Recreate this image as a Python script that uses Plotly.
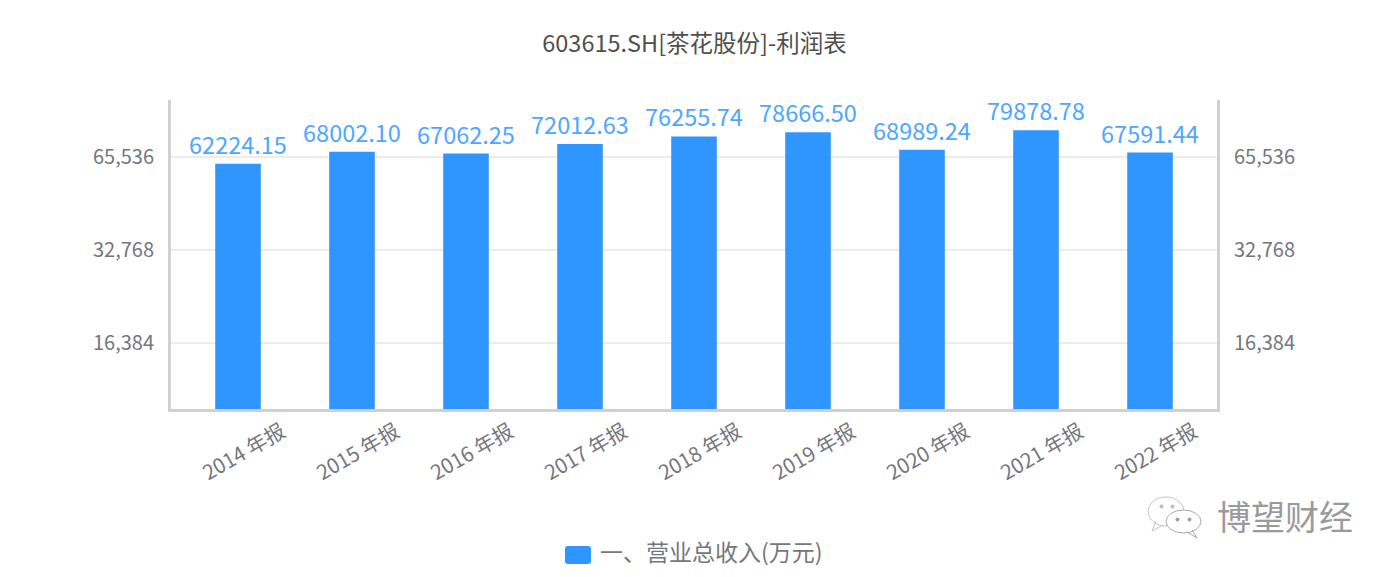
import plotly.graph_objects as go

W, H = 1398, 577
FONT = "Noto Sans CJK SC, Noto Sans, sans-serif"

title = "603615.SH[茶花股份]-利润表"
series_name = "一、营业总收入(万元)"
categories = ["2014 年报", "2015 年报", "2016 年报", "2017 年报", "2018 年报",
              "2019 年报", "2020 年报", "2021 年报", "2022 年报"]
revenue = [62224.15, 68002.10, 67062.25, 72012.63, 76255.74,
           78666.50, 68989.24, 79878.78, 67591.44]
tick_values = [16384, 32768, 65536]
tick_labels = ["16,384", "32,768", "65,536"]
watermark = "博望财经"

BLUE = "#3096ff"
LABEL = "#4fa6ff"
GREY = "#74767e"
AXIS = "#d0d0d0"
GRID = "#ececec"

# plot-area rectangle in pixels
L, R, T, B = 171, 1217, 100, 409


def px(x):
    return (x - L) / (R - L)


def py(y):
    return (B - y) / (B - T)


def bubble(x0, y0, x1, y1, color, fill="rgba(0,0,0,0)"):
    return dict(type="circle", xref="paper", yref="paper", layer="above",
                x0=px(x0), x1=px(x1), y0=py(y1), y1=py(y0),
                line=dict(color=color, width=1), fillcolor=fill)


def poly(points, color):
    d = "M" + " L".join(f"{px(a):.5f},{py(b):.5f}" for a, b in points)
    return dict(type="path", path=d, xref="paper", yref="paper", layer="above",
                line=dict(color=color, width=1), fillcolor="rgba(0,0,0,0)")


def rounded_rect(x0, y0, x1, y1, r, fill):
    q = lambda a, b: f"{px(a):.5f},{py(b):.5f}"
    d = (f"M{q(x0 + r, y0)} L{q(x1 - r, y0)} Q{q(x1, y0)} {q(x1, y0 + r)} "
         f"L{q(x1, y1 - r)} Q{q(x1, y1)} {q(x1 - r, y1)} L{q(x0 + r, y1)} "
         f"Q{q(x0, y1)} {q(x0, y1 - r)} L{q(x0, y0 + r)} Q{q(x0, y0)} {q(x0 + r, y0)} Z")
    return dict(type="path", path=d, xref="paper", yref="paper", layer="above",
                fillcolor=fill, line=dict(width=0))


fig = go.Figure()
fig.add_trace(go.Bar(
    x=categories, y=revenue, name=series_name,
    marker=dict(color=BLUE, line=dict(width=0)),
    text=[f"{v:.2f}" for v in revenue], textposition="outside", cliponaxis=False,
    constraintext="none",
    textfont=dict(size=23.5, color=LABEL, family=FONT),
    textangle=0,
))
# carries the right-hand value axis
fig.add_trace(go.Scatter(
    x=categories, y=revenue, yaxis="y2", mode="markers",
    marker=dict(opacity=0), showlegend=False, hoverinfo="skip",
))

common_y = dict(
    type="log", range=[4, 5], tickmode="array",
    tickvals=tick_values, ticktext=tick_labels,
    tickfont=dict(size=20, color=GREY, family=FONT),
    showline=True, linecolor=AXIS, linewidth=3, ticks="", zeroline=False,
    ticklabelstandoff=10,
)

shapes = [
    rounded_rect(565, 546, 591, 564, 3, BLUE),
    # chat-bubble watermark icon
    bubble(1148, 497, 1184, 526, "#c4c4c4"),
    poly([(1156, 521), (1152, 531), (1163, 525)], "#c4c4c4"),
    bubble(1166, 510, 1201, 533, "#a8a8a8", "white"),
    poly([(1192, 530), (1197, 538), (1187, 532)], "#a8a8a8"),
    bubble(1160, 505, 1163, 508, "#bbbbbb", "#bbbbbb"),
    bubble(1171, 505, 1174, 508, "#bbbbbb", "#bbbbbb"),
    bubble(1176, 518, 1179, 521, "#999999", "#999999"),
    bubble(1188, 518, 1191, 521, "#999999", "#999999"),
]

fig.update_layout(
    width=W, height=H, autosize=False,
    paper_bgcolor="white", plot_bgcolor="white",
    margin=dict(l=L, r=W - R, t=T, b=H - B, pad=0, autoexpand=False),
    bargap=0.6,
    font=dict(family=FONT, color=GREY),
    title=dict(text=title, x=694.5 / W, xanchor="center", y=1 - 44 / H, yanchor="middle",
               font=dict(size=23.5, color="#4f4f4f", family=FONT)),
    xaxis=dict(
        range=[-0.5877, 8.5877], tickangle=-30, ticks="",
        tickfont=dict(size=20.5, color=GREY, family=FONT),
        showline=True, linecolor=AXIS, linewidth=3, showgrid=False,
        ticklabelshift=44, ticklabelstandoff=0,
    ),
    yaxis=dict(**common_y, showgrid=True, gridcolor=GRID, gridwidth=1.5),
    yaxis2=dict(**common_y, overlaying="y", side="right", showgrid=False),
    showlegend=True,
    legend=dict(orientation="h", x=px(560), xanchor="left", y=py(552), yanchor="middle",
                bgcolor="rgba(0,0,0,0)",
                font=dict(size=23, color=GREY, family=FONT), itemclick=False),
    shapes=shapes,
    annotations=[dict(
        text=watermark, xref="paper", yref="paper", x=px(1285), y=py(515),
        showarrow=False, xanchor="center", yanchor="middle",
        font=dict(size=34, color="#9a9a9a", family=FONT),
    )],
)

fig.write_html("out.html", config={"displayModeBar": False},
               post_script="document.body.style.margin='0';")
